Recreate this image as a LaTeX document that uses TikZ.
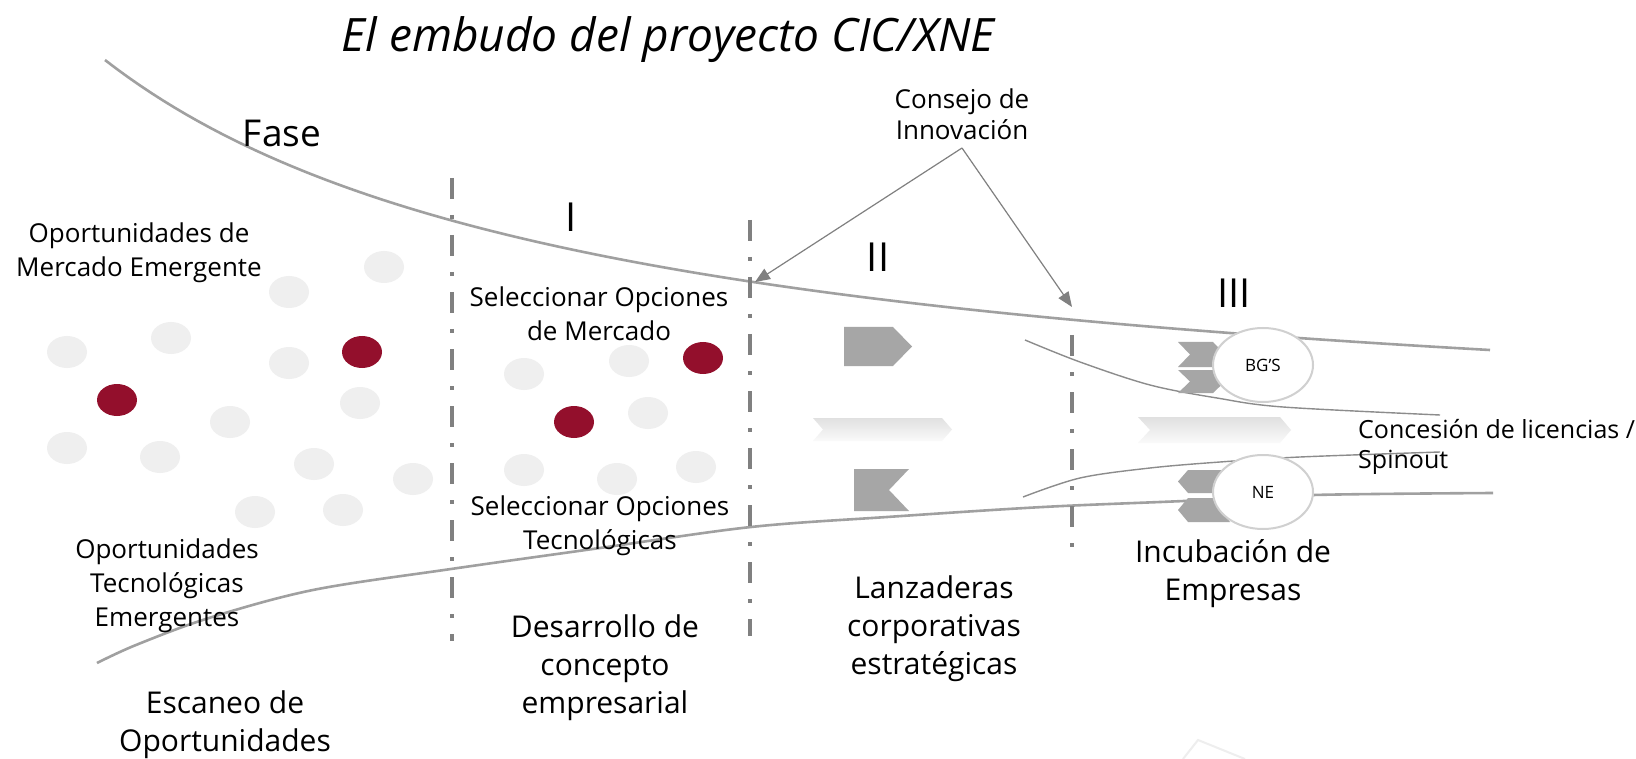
\documentclass[tikz,border=0pt]{standalone}
\usepackage{fontspec}
\setmainfont{Open Sans}
\usetikzlibrary{arrows.meta,shapes.geometric}
\definecolor{dotgray}{HTML}{EFEFEF}
\definecolor{dotred}{HTML}{930F2C}
\definecolor{chev}{HTML}{A6A6A6}
\definecolor{dashc}{HTML}{808080}
\definecolor{curvec}{HTML}{A0A0A0}
\definecolor{innerc}{HTML}{8C8C8C}
\definecolor{arrc}{HTML}{808080}
\definecolor{ellc}{HTML}{D0D0D0}
\definecolor{faintc}{HTML}{EEEEEE}
\begin{document}
\begin{tikzpicture}[x=1pt,y=-1pt,
  dotg/.style={ellipse,fill=dotgray,minimum width=40pt,minimum height=32pt,inner sep=0pt},
  dotr/.style={ellipse,fill=dotred,minimum width=40pt,minimum height=32pt,inner sep=0pt},
  body/.style={font=\fontsize{26}{34}\selectfont,align=center,anchor=base,inner sep=0pt},
  small/.style={font=\fontsize{26}{31}\selectfont,align=center,anchor=base,inner sep=0pt},
  big/.style={font=\fontsize{30}{38}\selectfont,align=center,anchor=base,inner sep=0pt},
  roman/.style={font=\fontsize{40}{48}\selectfont,anchor=base,inner sep=0pt},
  phase/.style={draw=dashc,line width=4.5pt,dash pattern=on 21pt off 16pt on 4pt off 16pt},
  funnel/.style={draw=curvec,line width=2.6pt},
  innercurve/.style={draw=innerc,line width=1.4pt},
  callout/.style={draw=arrc,line width=1.2pt,-{Triangle[length=15pt,width=12pt]}},
  outcome/.style={ellipse,draw=ellc,line width=2pt,fill=white,minimum width=100pt,minimum height=74pt,inner sep=0pt,font=\fontsize{17}{19}\selectfont},
  chevfill/.style={fill=chev},
  lightchev/.style={top color=gray!24,bottom color=gray!4},
]
\useasboundingbox (0,0) rectangle (1636,759);
\fill[white] (0,0) rectangle (1636,759);

% title
\node[anchor=base,inner sep=0pt,font=\fontsize{46}{54}\selectfont\itshape] (title) at (668,52) {El embudo del proyecto CIC/XNE};

% funnel curves
\draw[funnel] plot[domain=105:1490,samples=120] (\x,{457-2028.58/((\x+406)/100)});
\draw[funnel] plot[smooth,tension=0.55] coordinates {(97,663) (136,645) (209,618) (313,590) (451,569) (600,548) (751,527) (887,517) (1043,507) (1184,501) (1313,495) (1493,493)};

% inner curves
\draw[innercurve] plot[smooth,tension=0.55] coordinates {(1025,340) (1080,362) (1150,385) (1217,398) (1283,407) (1440,415)};
\draw[innercurve] plot[smooth,tension=0.55] coordinates {(1023,497) (1080,478) (1150,468) (1220,462) (1300,457) (1440,452)};

% phase lines
\draw[phase] (452,178) -- (452,641);
\draw[phase] (750,220) -- (750,636);
\draw[phase] (1072,335) -- (1072,549);

% dots left region
\node[dotg] (g1) at (384,267) {};
\node[dotg] (g2) at (289,292) {};
\node[dotg] (g3) at (67,352) {};
\node[dotg] (g4) at (171,338) {};
\node[dotg] (g5) at (289,363) {};
\node[dotg] (g6) at (360,403) {};
\node[dotg] (g7) at (230,422) {};
\node[dotg] (g8) at (67,448) {};
\node[dotg] (g9) at (160,457) {};
\node[dotg] (g10) at (314,464) {};
\node[dotg] (g11) at (413,479) {};
\node[dotg] (g12) at (255,512) {};
\node[dotg] (g13) at (343,510) {};
\node[dotr] (r1) at (117,400) {};
\node[dotr] (r2) at (362,352) {};
% dots middle region
\node[dotg] (g14) at (524,374) {};
\node[dotg] (g15) at (629,361) {};
\node[dotg] (g16) at (648,413) {};
\node[dotg] (g17) at (524,470) {};
\node[dotg] (g18) at (617,479) {};
\node[dotg] (g19) at (696,467) {};
\node[dotr] (r3) at (703,358) {};
\node[dotr] (r4) at (574,422) {};

% shapes in phase II
\path[chevfill] (844,327) -- (893,327) -- (912,346.5) -- (893,366) -- (844,366) -- cycle;
\path[chevfill] (854,469) -- (909,469) -- (889,490) -- (909,511) -- (854,511) -- cycle;
\shade[lightchev] (813,418) -- (942,418) -- (952,429.5) -- (942,441) -- (813,441) -- (823,429.5) -- cycle;
\shade[lightchev] (1138,417) -- (1280,417) -- (1291,430) -- (1280,443) -- (1138,443) -- (1150,430) -- cycle;

% chevrons at outcomes
\path[chevfill] (1178,342) -- (1213,342) -- (1225,354.5) -- (1213,367) -- (1178,367) -- (1190,354.5) -- cycle;
\path[chevfill] (1178,370) -- (1213,370) -- (1225,381.5) -- (1213,393) -- (1178,393) -- (1190,381.5) -- cycle;
\path[chevfill] (1178,481.5) -- (1188,470) -- (1230,470) -- (1220,481.5) -- (1230,493) -- (1188,493) -- cycle;
\path[chevfill] (1178,510) -- (1188,498) -- (1230,498) -- (1220,510) -- (1230,522) -- (1188,522) -- cycle;

% outcome ellipses
\node[outcome] (bgs) at (1263,365) {BG’S};
\node[outcome] (ne) at (1263,492) {NE};

% faint mark bottom right
\draw[faintc,line width=2pt] (1183,759) -- (1198,740) -- (1245,759);

% texts (anchor = baseline of the last line)
\node[font=\fontsize{37}{44}\selectfont,anchor=base,inner sep=0pt] (fase) at (282,147) {Fase};
\node[roman] (ph1) at (571,232) {I};
\node[roman] (ph2) at (878,272) {II};
\node[roman] (ph3) at (1234,308) {III};

\node[body] (ome) at (139,277) {Oportunidades de\\Mercado Emergente};
\node[body] (som) at (599,341) {Seleccionar Opciones\\de Mercado};
\node[body] (sot) at (600,549) {Seleccionar Opciones\\Tecnológicas};
\node[body] (ote) at (167,626) {Oportunidades\\Tecnológicas\\Emergentes};

\node[big] (esc) at (225,751) {Escaneo de\\Oportunidades};
\node[big] (des) at (605,713) {Desarrollo de\\concepto\\empresarial};
\node[big] (lan) at (934,674) {Lanzaderas\\corporativas\\estratégicas};
\node[big] (inc) at (1233,600) {Incubación de\\Empresas};

\node[font=\fontsize{25}{30}\selectfont,inner sep=0pt,anchor=base west,align=left] (lic) at (1358,468) {Concesión de licencias /\\Spinout};

% Consejo de Innovacion callouts
\node[small] (cons) at (962,140) {Consejo de\\Innovación};
\coordinate (apex) at (962,148);
\coordinate (tgt1) at (755,282);
\coordinate (tgt2) at (1072,307);
\draw[callout] (apex) -- (tgt1);
\draw[callout] (apex) -- (tgt2);
\end{tikzpicture}
\end{document}
